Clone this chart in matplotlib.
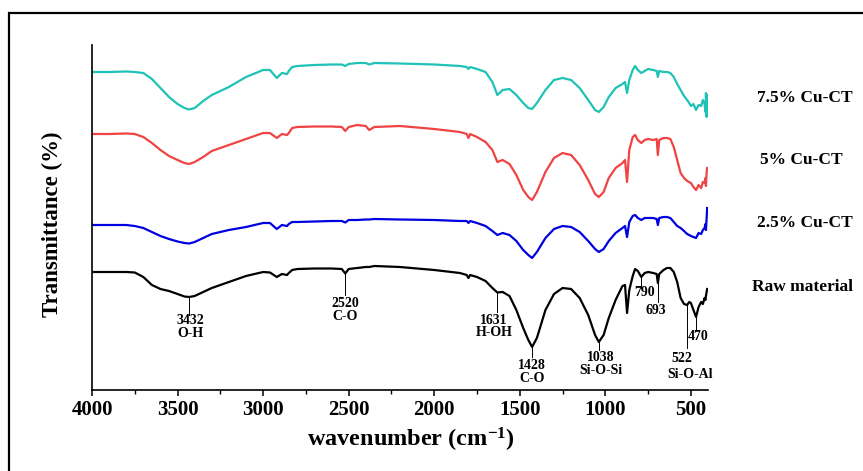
import matplotlib
matplotlib.use("Agg")
import matplotlib.pyplot as plt
from matplotlib.ticker import MultipleLocator
from matplotlib.patches import Rectangle

plt.rcParams['font.family'] = ['Liberation Serif', 'DejaVu Serif']
plt.rcParams['font.weight'] = 'bold'
plt.rcParams['mathtext.fontset'] = 'custom'
plt.rcParams['mathtext.rm'] = 'Liberation Serif:bold'
plt.rcParams['mathtext.it'] = 'Liberation Serif:italic:bold'
plt.rcParams['mathtext.bf'] = 'Liberation Serif:bold'

# FTIR spectra (arbitrary transmittance units, curves already stacked)
wavenumber = [
    4000, 3900, 3800, 3750, 3700, 3650, 3600, 3550, 3500, 3460,
    3432, 3400, 3350, 3300, 3200, 3100, 3000, 2960, 2920, 2890,
    2860, 2850, 2830, 2800, 2700, 2600, 2540, 2520, 2500, 2450,
    2400, 2380, 2350, 2200, 2000, 1850, 1810, 1800, 1790, 1750,
    1700, 1660, 1631, 1600, 1560, 1520, 1480, 1450, 1428, 1400,
    1350, 1300, 1250, 1200, 1150, 1100, 1060, 1038, 1010, 980,
    940, 900, 885, 873, 860, 840, 826, 810, 790, 770,
    750, 720, 700, 693, 685, 660, 640, 620, 600, 580,
    560, 540, 522, 510, 500, 485, 470, 455, 440, 430,
    420, 415, 412, 408, 405,
]

raw_material = [
    128, 128, 128, 127.5, 123, 115, 111, 109, 106, 103.5,
    103, 104, 108, 112, 118, 124, 128, 127.5, 123, 126,
    125, 127, 130, 131, 131.5, 131.5, 131, 126.5, 131, 132,
    133, 133, 134, 133, 130, 127, 125, 122, 125, 123,
    119, 112, 107.5, 108, 104, 90, 72, 60, 53, 62,
    90, 106, 112, 111, 102, 85, 65, 58, 65, 82,
    100, 114, 115, 87, 110, 124, 131, 129, 123, 127,
    128, 127, 126, 117, 126, 130, 132, 132, 128, 118,
    102, 96, 95, 98, 97, 90, 83, 93, 98, 96,
    102, 100, 104, 108, 111,
]

cu_2_5 = [
    175, 175, 175, 174, 172, 168, 164, 161, 158.5, 157,
    156.5, 158, 162, 166, 170, 173, 177, 177, 171, 175,
    174, 176, 178, 178, 178.5, 179, 179, 177.5, 180, 180,
    180.5, 180.5, 181, 180.5, 180, 179, 179, 177, 179, 177,
    174, 169, 165, 167, 165, 159, 150, 145, 142, 148,
    162, 171, 174, 173, 168, 159, 151, 148, 151, 159,
    167, 172, 174, 163, 178, 184, 185, 182, 180, 182,
    182, 182, 181, 175, 182, 183, 183, 182, 178, 174,
    172, 169, 166, 165, 164, 163, 162, 167, 166, 170,
    172, 176, 170, 182, 192,
]

cu_5 = [
    266, 266, 266.5, 266, 263, 257, 250, 244, 240, 237,
    236, 238, 243, 249, 255, 261, 267, 267, 262, 266,
    265, 267, 272, 273, 273.5, 273.5, 273, 269, 273, 275,
    274, 270, 273, 274, 271, 268, 266, 262, 266, 263,
    258, 250, 238, 240, 236, 225, 210, 203, 200, 208,
    228, 242, 247, 245, 235, 220, 206, 203, 208, 222,
    232, 237, 240, 218, 250, 263, 265, 260, 257, 260,
    261, 260, 261, 245, 260, 262, 262, 261, 253, 240,
    227, 222, 219, 218, 217, 213, 210, 215, 212, 218,
    217, 222, 214, 228, 232,
]

cu_7_5 = [
    328, 328, 328.5, 328, 327, 321, 312, 303, 296, 292,
    290.5, 292, 299, 305, 313, 323, 330, 330, 322, 327,
    326, 329, 333, 334, 335, 335.5, 335.5, 334, 336, 337,
    337, 335.5, 337, 336.5, 335.5, 334, 333, 331, 333, 331,
    328, 318, 305, 310, 311, 305, 297, 292, 291, 297,
    310, 320, 322, 320, 312, 300, 290, 288, 293, 303,
    312, 316, 318, 307, 320, 330, 334, 330, 327, 329,
    331, 330, 329, 323, 329, 328, 328, 327, 323, 316,
    310, 304, 300, 297, 294, 296, 290, 295, 294, 300,
    296, 288, 307, 283, 305,
]

series_names = ["Raw material", "2.5% Cu-CT", "5% Cu-CT", "7.5% Cu-CT"]
series_values = [raw_material, cu_2_5, cu_5, cu_7_5]
series_colors = ["black", "#0000e0", "#f04343", "#1fc2b6"]

# peak marks on the raw material curve: (wavenumber, curve value, line end, text x, text y, text)
peak_marks = [
    (3432, 103, 85, 3425, 73, "3432\nO-H"),
    (2520, 126.5, 105, 2520, 90, "2520\nC-O"),
    (1631, 107.5, 88, 1650, 73.5, "1631\nH-OH"),
    (1428, 53, 43, 1428, 28, "1428\nC-O"),
    (1038, 58, 50, 1025, 36, "1038\nSi-O-Si"),
    (790, 123, 112, 772, 107, "790"),
    (693, 117, 98, 703, 89, "693"),
    (522, 95, 52, 550, 42, "522"),
    (470, 83, 70, 458, 63, "470"),
]

fig = plt.figure(figsize=(8.63, 4.71), dpi=100)
ax = fig.add_axes([92 / 863, 1 - 390 / 471, 616 / 863, 345 / 471])

for values, color in zip(series_values, series_colors):
    ax.plot(wavenumber, values, color=color, lw=1.6)

for wn, top, bottom, tx, ty, label in peak_marks:
    ax.plot([wn, wn], [top, bottom], color="black", lw=0.7)
    ax.text(tx, ty, label, ha="center", va="center", fontsize=10,
            fontweight="bold", linespacing=0.95)
ax.text(505, 25, "Si-O-Al", ha="center", va="center", fontsize=10,
        fontweight="bold", clip_on=False)

ax.set_xlim(4000, 400)
ax.set_ylim(10, 355)
ax.xaxis.set_major_locator(MultipleLocator(500))
ax.xaxis.set_minor_locator(MultipleLocator(250))
ax.set_yticks([])
ax.tick_params(axis="x", which="major", direction="out", length=4, width=1.1,
               labelsize=15, pad=3)
ax.tick_params(axis="x", which="minor", direction="out", length=3, width=1.0)
for lab in ax.get_xticklabels():
    lab.set_fontweight("bold")

for side in ["top", "right"]:
    ax.spines[side].set_visible(False)
for side in ["left", "bottom"]:
    ax.spines[side].set_linewidth(1.2)

fig.text(411 / 863, 1 - 440 / 471, "wavenumber (cm$^{-1}$)", ha="center",
         va="center", fontsize=17.5, fontweight="bold")
fig.text(52 / 863, 1 - 224 / 471, "Transmittance (%)", rotation=90, ha="center",
         va="center", fontsize=16.5, fontweight="bold")

# curve names at the right
name_pos = [(752, 287), (757, 223), (760, 160), (757, 98)]
for name, (px, py) in zip(series_names, name_pos):
    fig.text(px / 863, 1 - py / 471, name, ha="left", va="center",
             fontsize=12.5, fontweight="bold")

# outer frame of the original picture (cut at right and bottom)
frame = Rectangle((9 / 863, -0.1), 1.5, 1.1 - 13 / 471, transform=fig.transFigure,
                  fill=False, ec="black", lw=1.6, clip_on=False)
fig.add_artist(frame)

fig.savefig("out.png", dpi=100)
